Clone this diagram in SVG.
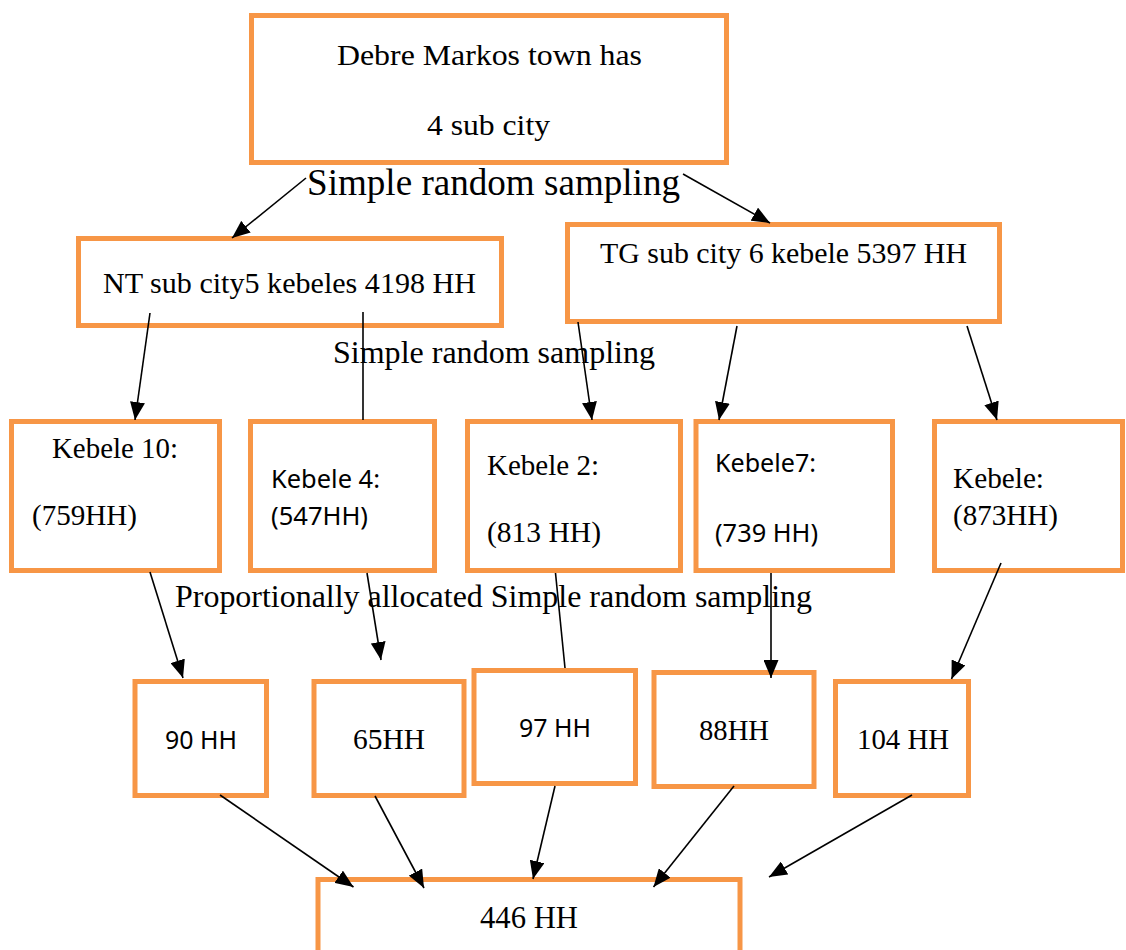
<svg xmlns="http://www.w3.org/2000/svg" width="1126" height="950" viewBox="0 0 1126 950">
<style>
.box{fill:#fff;stroke:#F79646;stroke-width:5}
.ser{font-family:"Liberation Serif","Times New Roman",serif;fill:#000}
.san{font-family:"Noto Sans","Liberation Sans",sans-serif;fill:#000}
.ln{stroke:#000;stroke-width:1.6;fill:none}
.ar{marker-end:url(#ah)}
</style>
<defs>
<marker id="ah" markerUnits="userSpaceOnUse" markerWidth="18" markerHeight="15" viewBox="0 0 18 15" refX="18" refY="7.5" orient="auto">
<path d="M0,0 L18,7.5 L0,15 z" fill="#000"/>
</marker>
</defs>
<rect width="1126" height="950" fill="#fff"/>

<g id="top">
<rect class="box" x="251.5" y="15.5" width="475" height="147"/>
<text class="ser" x="337" y="65" font-size="30" textLength="305" lengthAdjust="spacingAndGlyphs">Debre Markos town has</text>
<text class="ser" x="427" y="135" font-size="30" textLength="123" lengthAdjust="spacingAndGlyphs">4 sub city</text>
</g>

<g id="labels">
<text class="ser" x="307" y="195" font-size="37" textLength="373" lengthAdjust="spacingAndGlyphs">Simple random sampling</text>
<text class="ser" x="333" y="363" font-size="31" textLength="322" lengthAdjust="spacingAndGlyphs">Simple random sampling</text>
<text class="ser" x="175" y="607" font-size="32" textLength="637" lengthAdjust="spacingAndGlyphs">Proportionally allocated Simple random sampling</text>
</g>

<g id="nt">
<rect class="box" x="78.5" y="238.5" width="423" height="87"/>
<text class="ser" x="103" y="293" font-size="29" textLength="373" lengthAdjust="spacingAndGlyphs">NT sub city5 kebeles 4198 HH</text>
</g>

<g id="tg">
<rect class="box" x="567.5" y="224.5" width="432" height="97"/>
<text class="ser" x="600" y="263" font-size="30" textLength="367" lengthAdjust="spacingAndGlyphs">TG sub city 6 kebele 5397 HH</text>
</g>

<g id="k10">
<rect class="box" x="11.5" y="421.5" width="208" height="149"/>
<text class="ser" x="52" y="458" font-size="29" textLength="126" lengthAdjust="spacingAndGlyphs">Kebele 10:</text>
<text class="ser" x="32" y="525" font-size="29" textLength="105" lengthAdjust="spacingAndGlyphs">(759HH)</text>
</g>

<g id="k4">
<rect class="box" x="250.5" y="421.5" width="184" height="149"/>
<text class="san" x="271" y="488" font-size="25" textLength="109" lengthAdjust="spacingAndGlyphs">Kebele 4:</text>
<text class="san" x="271" y="525" font-size="25" textLength="97" lengthAdjust="spacingAndGlyphs">(547HH)</text>
</g>

<g id="k2">
<rect class="box" x="467.5" y="421.5" width="213" height="149"/>
<text class="ser" x="487" y="475" font-size="29" textLength="112" lengthAdjust="spacingAndGlyphs">Kebele 2:</text>
<text class="ser" x="487" y="542" font-size="29" textLength="114" lengthAdjust="spacingAndGlyphs">(813 HH)</text>
</g>

<g id="k7">
<rect class="box" x="696" y="421.5" width="196.5" height="149"/>
<text class="san" x="715" y="472" font-size="25" textLength="101" lengthAdjust="spacingAndGlyphs">Kebele7:</text>
<text class="san" x="715" y="542" font-size="25" textLength="103" lengthAdjust="spacingAndGlyphs">(739 HH)</text>
</g>

<g id="kx">
<rect class="box" x="934.5" y="421.5" width="188" height="149"/>
<text class="ser" x="953" y="488" font-size="29" textLength="91" lengthAdjust="spacingAndGlyphs">Kebele:</text>
<text class="ser" x="953" y="525" font-size="29" textLength="105" lengthAdjust="spacingAndGlyphs">(873HH)</text>
</g>

<g id="s90">
<rect class="box" x="135" y="681.5" width="131.5" height="114"/>
<text class="san" x="165" y="749" font-size="26" textLength="72" lengthAdjust="spacingAndGlyphs">90 HH</text>
</g>

<g id="s65">
<rect class="box" x="314" y="681.5" width="150" height="114"/>
<text class="ser" x="353" y="749" font-size="29" textLength="72" lengthAdjust="spacingAndGlyphs">65HH</text>
</g>

<g id="s97">
<rect class="box" x="474" y="670.5" width="161.5" height="113"/>
<text class="san" x="519" y="737" font-size="26" textLength="72" lengthAdjust="spacingAndGlyphs">97 HH</text>
</g>

<g id="s88">
<rect class="box" x="654" y="672.5" width="160" height="114"/>
<text class="ser" x="699" y="740" font-size="29" textLength="70" lengthAdjust="spacingAndGlyphs">88HH</text>
</g>

<g id="s104">
<rect class="box" x="835.5" y="681.5" width="133" height="114"/>
<text class="ser" x="857" y="749" font-size="29" textLength="92" lengthAdjust="spacingAndGlyphs">104 HH</text>
</g>

<g id="total">
<rect class="box" x="318" y="879.5" width="422" height="100"/>
<text class="ser" x="480" y="928" font-size="31" textLength="98" lengthAdjust="spacingAndGlyphs">446 HH</text>
</g>

<g id="connectors">
<line class="ln ar" x1="306" y1="178" x2="232" y2="238"/>
<line class="ln ar" x1="683" y1="174" x2="770" y2="223"/>
<line class="ln ar" x1="150" y1="313" x2="135" y2="420"/>
<line class="ln" x1="363" y1="312" x2="363" y2="420"/>
<line class="ln ar" x1="578" y1="322" x2="592" y2="420"/>
<line class="ln ar" x1="737" y1="326" x2="719" y2="420"/>
<line class="ln ar" x1="967" y1="326" x2="997" y2="420"/>
<line class="ln ar" x1="150" y1="572" x2="183" y2="678"/>
<line class="ln ar" x1="367" y1="573" x2="381" y2="660"/>
<line class="ln" x1="555.5" y1="573" x2="565" y2="668"/>
<line class="ln ar" x1="771" y1="573" x2="771" y2="678"/>
<line class="ln ar" x1="1001" y1="563" x2="951.5" y2="679"/>
<line class="ln ar" x1="220" y1="795" x2="353.5" y2="887"/>
<line class="ln ar" x1="375" y1="796" x2="424" y2="888"/>
<line class="ln ar" x1="555" y1="786" x2="533" y2="879"/>
<line class="ln ar" x1="734" y1="786" x2="653.5" y2="887"/>
<line class="ln ar" x1="912" y1="795" x2="769" y2="877"/>
</g>
</svg>
